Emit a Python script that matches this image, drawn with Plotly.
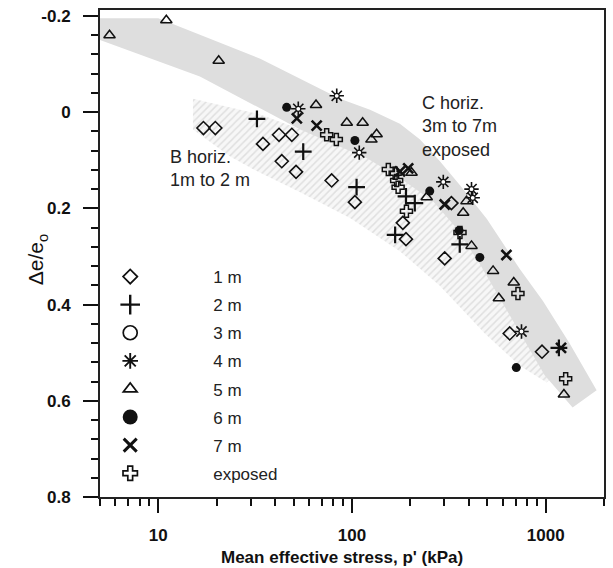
import plotly.graph_objects as go
import math

# ---------------- data ----------------
depth_labels = ["1 m", "2 m", "3 m", "4 m", "5 m", "6 m", "7 m", "exposed"]

d1_x = [17.1, 19.7, 34.7, 42, 48.9, 43.4, 51.4, 78.5, 103.5, 183, 190, 301, 326, 652, 957]
d1_y = [0.033, 0.033, 0.066, 0.047, 0.047, 0.102, 0.124, 0.142, 0.187, 0.230, 0.264, 0.304, 0.189, 0.460, 0.498]

d2_x = [32.3, 56, 105.6, 190, 211, 167, 360, 1170]
d2_y = [0.014, 0.082, 0.156, 0.175, 0.189, 0.255, 0.275, 0.49]

d3_x = []
d3_y = []

d4_x = [52.8, 83.4, 109, 296, 414, 420, 750]
d4_y = [-0.007, -0.034, 0.084, 0.145, 0.160, 0.178, 0.456]

d5_x = [5.6, 11.0, 20.5, 65.2, 94, 113.5, 134, 126, 203, 243, 390, 375, 414, 535, 684, 573, 1242]
d5_y = [-0.160, -0.191, -0.107, -0.015, 0.022, 0.022, 0.046, 0.057, 0.126, 0.177, 0.185, 0.209,
        0.278, 0.330, 0.354, 0.387, 0.587]

d6_x = [46, 103.5, 252, 357, 457, 705]
d6_y = [-0.010, 0.059, 0.164, 0.246, 0.302, 0.531]

d7_x = [51.9, 65.7, 177, 195, 301, 627, 1200]
d7_y = [0.013, 0.028, 0.123, 0.117, 0.192, 0.297, 0.49]

dexp_x = [74, 83, 154, 167, 170, 173, 191, 361, 719, 1268]
dexp_y = [0.047, 0.057, 0.119, 0.127, 0.142, 0.156, 0.206, 0.250, 0.377, 0.554]

# band outlines (C horizon: upper band; B horizon: lower band)
c_top_x = [5, 10, 33.6, 86.7, 123.9, 176.6, 224.5, 284.4, 361, 497, 735, 966, 1330, 1832]
c_top_y = [-0.195, -0.195, -0.111, -0.028, -0.005, 0.024, 0.057, 0.102, 0.152, 0.222, 0.326, 0.392, 0.481, 0.578]
c_bot_x = [1377, 988, 735, 579, 457, 339.6, 262, 176.6, 119.5, 54, 16.4, 5]
c_bot_y = [0.614, 0.547, 0.458, 0.386, 0.3155, 0.237, 0.185, 0.137, 0.096, 0.036, -0.074, -0.150]

b_top_x = [15.1, 33.6, 79.8, 176.6, 284, 406, 579, 828, 1112]
b_top_y = [-0.028, 0.005, 0.061, 0.119, 0.185, 0.268, 0.371, 0.475, 0.547]
b_bot_x = [1012, 735, 485, 284, 176.6, 97.7, 54, 32.4, 23.5, 15.1]
b_bot_y = [0.562, 0.527, 0.460, 0.361, 0.289, 0.220, 0.1665, 0.123, 0.092, 0.036]

x_range = [5, 2000]
y_range = [0.8, -0.2124]
y_ticks = [-0.2, 0, 0.2, 0.4, 0.6, 0.8]
y_ticktext = ["-0.2", "0", "0.2", "0.4", "0.6", "0.8"]
x_ticks = [10, 100, 1000]
x_ticktext = ["10", "100", "1000"]

# ---------------- figure ----------------
fig = go.Figure()
INK = "#111111"

# B horizon band (hatched)
fig.add_trace(go.Scatter(
    x=b_top_x + b_bot_x + [b_top_x[0]], y=b_top_y + b_bot_y + [b_top_y[0]],
    mode="lines", line=dict(width=0), fill="toself",
    fillcolor="rgba(0,0,0,0)",
    fillpattern=dict(shape="/", fgcolor="#c8c8c8", bgcolor="#f7f7f7", size=5, solidity=0.3),
    showlegend=False, hoverinfo="skip"))

# C horizon band (grey)
fig.add_trace(go.Scatter(
    x=c_top_x + c_bot_x + [c_top_x[0]], y=c_top_y + c_bot_y + [c_top_y[0]],
    mode="lines", line=dict(width=0), fill="toself", fillcolor="#dedede",
    showlegend=False, hoverinfo="skip"))

def pts(x, y, symbol, size, lw, color=INK, fill=None):
    fig.add_trace(go.Scatter(
        x=x, y=y, mode="markers", showlegend=False, hoverinfo="skip",
        marker=dict(symbol=symbol, size=size, color=fill if fill else color,
                    line=dict(width=lw, color=color))))

pts(d1_x, d1_y, "diamond-open", 10, 1.6)
pts(d2_x, d2_y, "cross-thin-open", 12, 2.2)
pts(d3_x, d3_y, "circle-open", 10, 1.6)
pts(d4_x, d4_y, "asterisk-open", 12, 1.6)
pts(d4_x, d4_y, "circle", 5, 1.2, fill="white")
pts(d5_x, d5_y, "triangle-up-open", 10, 1.5)
pts(d6_x, d6_y, "circle", 9, 0, fill=INK)
pts(d7_x, d7_y, "x-thin-open", 10, 2.6)
pts(dexp_x, dexp_y, "cross-open", 10, 1.5)

# legend entries
leg_specs = [
    ("diamond-open", 11, 1.7, None),
    ("cross-thin-open", 14, 2.4, None),
    ("circle-open", 14, 1.7, None),
    ("asterisk-open", 13, 1.9, None),
    ("triangle-up-open", 12, 1.7, None),
    ("circle", 15, 0, INK),
    ("x-thin-open", 13, 3.0, None),
    ("cross-open", 12, 1.7, None),
]
for i, (lab, (sym, sz, lw, fc)) in enumerate(zip(depth_labels, leg_specs)):
    fig.add_trace(go.Scatter(
        x=[None], y=[None], mode="markers", name=lab, legendgroup="g%d" % i,
        marker=dict(symbol=sym, size=sz, color=fc if fc else INK,
                    line=dict(width=lw, color=INK))))

# plot area: left 100, right 606, top 8, bottom 497 (px)
L, R, T, B = 100, 606, 8, 497
W, H = 613, 568
pw, ph = R - L, B - T

def px_x(p):
    return (p - L) / pw

def px_y(p):
    return 1 - (p - T) / ph

axis_font = dict(family="Liberation Sans, Arial", size=17, color="#111", weight="bold")

fig.update_layout(
    width=W, height=H,
    margin=dict(l=L, r=W - R, t=T, b=H - B, pad=0),
    paper_bgcolor="white", plot_bgcolor="white",
    showlegend=True,
    legend=dict(x=px_x(47), y=px_y(258), xanchor="left", yanchor="top",
                bgcolor="rgba(0,0,0,0)", traceorder="grouped", tracegroupgap=3.0,
                itemwidth=156, itemclick=False,
                font=dict(family="Liberation Sans, Arial", size=17, color="#222")),
    xaxis=dict(type="log", range=[math.log10(x_range[0]), math.log10(x_range[1])],
               tickvals=x_ticks, ticktext=x_ticktext,
               ticks="outside", ticklen=14, tickwidth=1.5, tickcolor="#111",
               minor=dict(ticks="outside", ticklen=7, tickwidth=1.5, tickcolor="#111", dtick="D1", showgrid=False),
               showgrid=False, zeroline=False, showline=True, linewidth=2, linecolor="#222",
               mirror=True, tickfont=axis_font, ticklabelstandoff=8),
    yaxis=dict(range=y_range, tickvals=y_ticks, ticktext=y_ticktext,
               ticks="outside", ticklen=15, tickwidth=1.5, tickcolor="#111",
               minor=dict(ticks="outside", ticklen=7, tickwidth=1.5, tickcolor="#111", dtick=0.04, tick0=0, showgrid=False),
               showgrid=False, zeroline=False, showline=True, linewidth=2, linecolor="#222",
               mirror=True, tickfont=axis_font, ticklabelstandoff=9),
)

# axis titles
fig.add_annotation(xref="paper", yref="paper", x=px_x(343), y=0, yshift=-(568 - 497 - 22),
                   text="Mean effective stress, p' (kPa)", showarrow=False,
                   xanchor="center", yanchor="top",
                   font=dict(family="Liberation Sans, Arial", size=17, color="#111", weight="bold"))
fig.add_annotation(xref="paper", yref="paper", x=px_x(37), y=px_y(259),
                   text="Δe/e<sub>o</sub>", showarrow=False, textangle=-90,
                   xanchor="center", yanchor="middle",
                   font=dict(family="Liberation Sans, Arial", size=21, color="#111"))

# band labels
fig.add_annotation(xref="paper", yref="paper", x=px_x(421), y=px_y(124.5),
                   text="C horiz.<br>3m to 7m<br>exposed", showarrow=False, align="left",
                   xanchor="left", yanchor="middle",
                   font=dict(family="Liberation Sans, Arial", size=18, color="#222"))
fig.add_annotation(xref="paper", yref="paper", x=px_x(168), y=px_y(167),
                   text="B horiz.<br>1m to 2 m", showarrow=False, align="left",
                   xanchor="left", yanchor="middle",
                   font=dict(family="Liberation Sans, Arial", size=18, color="#222"))

fig.write_html("out.html")
